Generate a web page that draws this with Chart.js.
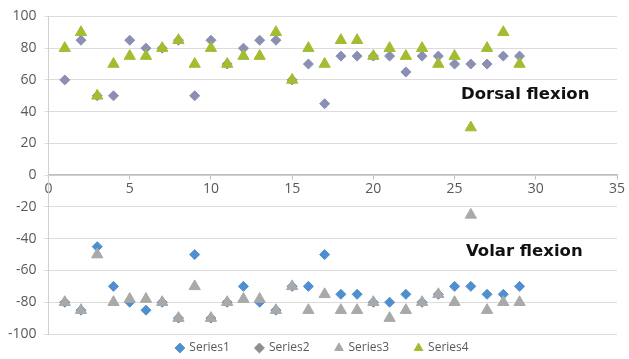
<!DOCTYPE html>
<html>
<head>
<meta charset="utf-8">
<script src="https://cdn.jsdelivr.net/npm/chart.js@4"></script>
<style>
  html, body { margin: 0; padding: 0; background: #fff; }
  #wrap { width: 629px; height: 359px; }
</style>
</head>
<body>
<div id="wrap"><canvas id="flexChart"></canvas></div>
<script>
// patient numbers on the x axis
const patients = [1,2,3,4,5,6,7,8,9,10,11,12,13,14,15,16,17,18,19,20,21,22,23,24,25,26,27,28,29];

// volar flexion (negative) and dorsal flexion (positive) values
const series1 = [-80,-85,-45,-70,-80,-85,-80,-90,-50,-90,-80,-70,-80,-85,-70,-70,-50,-75,-75,-80,-80,-75,-80,-75,-70,-70,-75,-75,-70];
const series2 = [60,85,50,50,85,80,80,85,50,85,70,80,85,85,60,70,45,75,75,75,75,65,75,75,70,70,70,75,75];
const series3 = [-80,-85,-50,-80,-78,-78,-80,-90,-70,-90,-80,-78,-78,-85,-70,-85,-75,-85,-85,-80,-90,-85,-80,-75,-80,-25,-85,-80,-80];
const series4 = [80,90,50,70,75,75,80,85,70,80,70,75,75,90,60,80,70,85,85,75,80,75,80,70,75,30,80,90,70];

const seriesNames = ['Series1', 'Series2', 'Series3', 'Series4'];
const xTicks = [0, 5, 10, 15, 20, 25, 30, 35];
const yTicks = [-100, -80, -60, -40, -20, 0, 20, 40, 60, 80, 100];

function toPoints(vals) {
  return vals.map((v, i) => ({ x: patients[i], y: v }));
}

// the two region labels, placed in data units
const regionLabels = [
  { text: 'Dorsal flexion', x: 25.4, y: 50.5 },
  { text: 'Volar flexion', x: 25.7, y: -48.5 }
];

const labelPlugin = {
  id: 'regionLabels',
  afterInit(chart) {
    // keep the legend strip thin, but keep the wide gaps between items
    const lg = chart.legend;
    const fit0 = lg.fit.bind(lg);
    lg.fit = function () { fit0(); this.height = 25; };
    const draw0 = lg.draw.bind(lg);
    lg.draw = function () {
      const t = this.top, l = this.left, r = this.right;
      this.top = t - 18;
      this.left = l + 14;
      this.right = r + 14;
      draw0();
      this.top = t;
      this.left = l;
      this.right = r;
    };
  },
  afterDatasetsDraw(chart) {
    const ctx = chart.ctx;
    const xs = chart.scales.x, ys = chart.scales.y;
    ctx.save();
    ctx.font = 'bold 16.5px "DejaVu Sans"';
    ctx.fillStyle = '#111';
    ctx.textBaseline = 'middle';
    ctx.textAlign = 'left';
    regionLabels.forEach(l => {
      ctx.fillText(l.text, xs.getPixelForValue(l.x), ys.getPixelForValue(l.y));
    });
    ctx.restore();
  }
};

const legendColors = ['#4f8fcf', '#8e8e8e', '#a9a9a9', '#a2bd30'];

const ctx = document.getElementById('flexChart').getContext('2d');
const flexChart = new Chart(ctx, {
  type: 'scatter',
  data: {
    datasets: [{
      label: seriesNames[0],
      data: toPoints(series1),
      pointStyle: 'rectRot',
      pointRadius: 5,
      pointBackgroundColor: '#4f8fcf',
      pointBorderColor: '#4f8fcf',
      order: 1
    }, {
      label: seriesNames[1],
      data: toPoints(series2),
      pointStyle: 'rectRot',
      pointRadius: 5,
      pointBackgroundColor: '#8a8fb3',
      pointBorderColor: '#8a8fb3',
      order: 1
    }, {
      label: seriesNames[2],
      data: toPoints(series3),
      pointStyle: 'triangle',
      pointRadius: 6.5,
      pointBackgroundColor: '#a9a9a9',
      pointBorderColor: '#a9a9a9',
      order: 0
    }, {
      label: seriesNames[3],
      data: toPoints(series4),
      pointStyle: 'triangle',
      pointRadius: 6.5,
      pointBackgroundColor: '#a2bd30',
      pointBorderColor: '#a2bd30',
      order: 0
    }]
  },
  options: {
    responsive: true,
    maintainAspectRatio: false,
    animation: false,
    layout: {
      padding: { top: 6, right: 12, left: 0, bottom: 0 }
    },
    scales: {
      x: {
        type: 'linear',
        position: { y: 0 },
        min: 0,
        max: 35,
        afterBuildTicks: axis => { axis.ticks = xTicks.map(v => ({ value: v })); },
        grid: {
          drawOnChartArea: false,
          drawTicks: true,
          tickLength: 4,
          color: '#bfbfbf'
        },
        border: { color: '#bfbfbf', width: 1.5 },
        ticks: {
          color: '#595959',
          font: { family: 'Open Sans', size: 14 },
          padding: 1,
          maxRotation: 0
        }
      },
      y: {
        min: -100,
        max: 100,
        afterBuildTicks: axis => { axis.ticks = yTicks.map(v => ({ value: v })); },
        grid: {
          color: '#dcdcdc',
          drawTicks: true,
          tickLength: 4
        },
        border: { color: '#d0d0d0' },
        ticks: {
          color: '#595959',
          font: { family: 'Open Sans', size: 14 },
          padding: 8
        }
      }
    },
    plugins: {
      legend: {
        position: 'bottom',
        labels: {
          usePointStyle: true,
          boxWidth: 7,
          boxHeight: 7,
          padding: 26,
          color: '#595959',
          font: { family: 'Open Sans', size: 12 },
          sort: (a, b) => a.datasetIndex - b.datasetIndex,
          generateLabels: chart => {
            const items = Chart.defaults.plugins.legend.labels.generateLabels(chart);
            items.forEach(it => {
              it.fillStyle = legendColors[it.datasetIndex];
              it.strokeStyle = legendColors[it.datasetIndex];
            });
            return items;
          }
        }
      },
      tooltip: { enabled: false }
    }
  },
  plugins: [labelPlugin]
});
</script>
</body>
</html>
